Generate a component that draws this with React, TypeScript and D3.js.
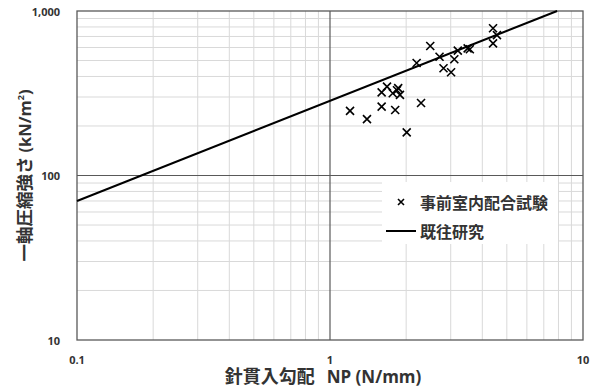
import React from "react";
import * as d3 from "d3";

// 事前室内配合試験 (NP, qu)
const testNP = [1.2, 1.4, 1.6, 1.68, 1.6, 1.77, 1.86, 1.89, 1.81, 1.84, 2.01, 2.29, 2.2, 2.49, 2.71, 2.81, 3.01, 3.1, 3.2, 3.5, 3.57, 4.41, 4.41, 4.57];
const testQu = [247, 220, 320, 347, 262, 316, 340, 309, 250, 330, 183, 276, 483, 613, 527, 449, 424, 509, 574, 593, 585, 785, 636, 714];

// 既往研究
const refNP = [0.1, 7.9];
const refQu = [70, 1000];

const xTicks = [0.1, 1, 10];
const yTicks = [10, 100, 1000];

const W = 597;
const H = 389;
const m = { left: 77, right: 14, top: 11, bottom: 49 };

export default function App() {
  const x = d3.scaleLog().domain([0.1, 10]).range([m.left, W - m.right]);
  const y = d3.scaleLog().domain([10, 1000]).range([H - m.bottom, m.top]);

  const minorX: number[] = [];
  const minorY: number[] = [];
  [0.1, 1].forEach((d) => {
    for (let k = 2; k <= 9; k++) minorX.push(d * k);
  });
  [10, 100].forEach((d) => {
    for (let k = 2; k <= 9; k++) minorY.push(d * k);
  });

  const line = d3
    .line<number>()
    .x((d) => x(d))
    .y((d, i) => y(refQu[i]));

  const fmt = d3.format(",");
  const font = "'Noto Sans CJK JP', sans-serif";
  const lx = 386;
  const ly = 182;

  return (
    <svg width={W} height={H} style={{ position: "absolute", left: 0, top: 0 }}>
      <rect width={W} height={H} fill="white" />
      <g>
        {minorX.map((d) => (
          <line key={"mx" + d} x1={x(d)} x2={x(d)} y1={y(10)} y2={y(1000)} stroke="#d9d9d9" strokeWidth={1} />
        ))}
        {minorY.map((d) => (
          <line key={"my" + d} x1={x(0.1)} x2={x(10)} y1={y(d)} y2={y(d)} stroke="#d9d9d9" strokeWidth={1} />
        ))}
        <line x1={x(1)} x2={x(1)} y1={y(10)} y2={y(1000)} stroke="#595959" strokeWidth={1.2} />
        <line x1={x(0.1)} x2={x(10)} y1={y(100)} y2={y(100)} stroke="#595959" strokeWidth={1.2} />
        <rect x={x(0.1)} y={y(1000)} width={x(10) - x(0.1)} height={y(10) - y(1000)} fill="none" stroke="#595959" strokeWidth={1.3} />
      </g>
      <path d={line(refNP) || ""} fill="none" stroke="black" strokeWidth={2} />
      <g stroke="black" strokeWidth={1.6}>
        {testNP.map((d, i) => {
          const cx = x(d);
          const cy = y(testQu[i]);
          const s = 4;
          return (
            <path key={i} d={`M${cx - s},${cy - s}L${cx + s},${cy + s}M${cx - s},${cy + s}L${cx + s},${cy - s}`} />
          );
        })}
      </g>
      <g fontFamily="'Open Sans', sans-serif" fontWeight="bold" fontSize={11} fill="#333">
        {yTicks.map((d) => (
          <text key={d} x={x(0.1) - 17} y={y(d)} textAnchor="end" dominantBaseline="central">
            {fmt(d)}
          </text>
        ))}
        {xTicks.map((d) => (
          <text key={d} x={x(d)} y={359} textAnchor="middle" dominantBaseline="central">
            {d}
          </text>
        ))}
      </g>
      <text x={323} y={383} textAnchor="middle" fontFamily={font} fontWeight="bold" fontSize={18} fill="#333">
        針貫入勾配
        <tspan dx={12} fontFamily="'Open Sans', sans-serif" fontSize={17}>NP (N/mm)</tspan>
      </text>
      <text
        transform={`translate(31,${y(100)}) rotate(-90)`}
        textAnchor="middle"
        fontFamily={font}
        fontWeight="bold"
        fontSize={17.5}
        fill="#333"
      >
        一軸圧縮強さ <tspan fontFamily="'Open Sans', sans-serif" fontSize={16.5}>(kN/m</tspan>
        <tspan fontFamily="'Open Sans', sans-serif" fontSize={9} dy={-7}>2</tspan>
        <tspan fontFamily="'Open Sans', sans-serif" fontSize={16.5} dy={7}>)</tspan>
      </text>
      <g>
        <rect x={lx - 4} y={ly} width={176} height={62} fill="white" />
        <path d={`M${lx + 12},${ly + 17}l6,6M${lx + 12},${ly + 23}l6,-6`} stroke="black" strokeWidth={1.6} />
        <text x={lx + 34} y={ly + 20} dominantBaseline="central" fontFamily={font} fontWeight="bold" fontSize={16} fill="#333">
          事前室内配合試験
        </text>
        <line x1={lx} x2={lx + 30} y1={ly + 49} y2={ly + 49} stroke="black" strokeWidth={2} />
        <text x={lx + 34} y={ly + 49} dominantBaseline="central" fontFamily={font} fontWeight="bold" fontSize={16} fill="#333">
          既往研究
        </text>
      </g>
    </svg>
  );
}
